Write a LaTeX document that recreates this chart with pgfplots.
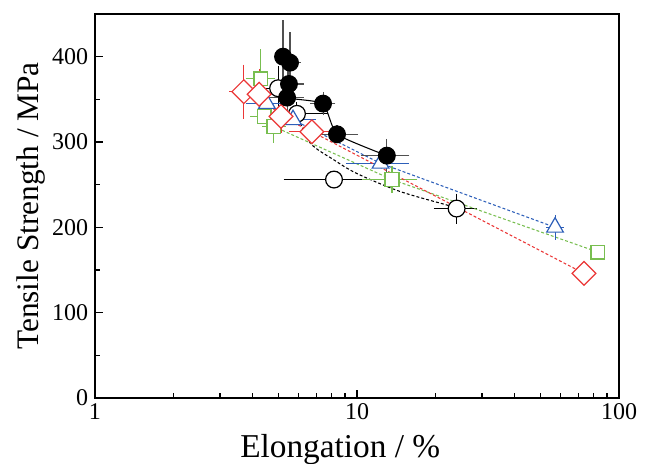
\documentclass[border=0pt]{standalone}
\usepackage{fontspec}
\setmainfont{Liberation Serif}
\usepackage{pgfplots}
\pgfplotsset{compat=1.18}
\usepackage{pgfplotstable}

\definecolor{myred}{RGB}{235,55,55}
\definecolor{mygreen}{RGB}{120,190,80}
\definecolor{myblue}{RGB}{45,95,185}
\definecolor{bargray}{RGB}{80,80,80}

% x = elongation (%), y = tensile strength (MPa), ex/ey = error
\pgfplotstableread{
x y ex ey
5.22 400 0.2 37
5.55 393 0.3 30
5.50 368 0.5 15
5.41 352 0.6 25
7.42 345 0.5 8
8.39 309 1.3 5
13.0 284 2.2 14
}\filled

\pgfplotstableread{
x y ex ey
5.0 363 0.3 20
5.9 333 1.5 8
8.17 256 2.7 0
24.0 222 3.5 12
}\open

% dashed trend through the open circles
\pgfplotstableread{
x y
5.9 333
6.62 299
8.17 279
10 263
14.6 242
22.1 226
24.0 222
}\openfit

\pgfplotstableread{
x y ex ey
4.30 374 0.38 29
4.42 330 0.33 0
4.82 318 0.3 13
13.6 256 2.7 10
83.1 171 0 0
}\green

\pgfplotstableread{
x y ex ey
4.53 345 0.6 0
5.70 326 1.0 0
12.3 275 2.8 0
57.0 200 2 9
}\blue

\pgfplotstableread{
x y ex ey
3.70 359 0.3 26
4.23 356 0.3 24
5.13 330 0.4 14
6.73 312 1.0 5
73.5 146 0 0
}\red

\begin{document}
\begin{tikzpicture}
\begin{axis}[
    name=ax,
    scale only axis,
    width=393pt, height=288pt,
    xmode=log, xmin=1, xmax=100,
    ymin=0, ymax=450,
    xtick={1,10,100}, xticklabels={1,10,100},
    ytick={0,100,200,300,400}, yticklabels={0,100,200,300,400},
    minor y tick num=1,
    tick pos=left, tick align=inside,
    major tick length=6pt, minor tick length=3.5pt,
    axis line style={line width=1pt},
    every tick/.style={black, line width=0.8pt},
    every tick label/.append style={font=\fontsize{18}{18}\selectfont},
    xticklabel style={inner sep=4pt},
    yticklabel style={inner sep=5pt},
    xlabel={Elongation / \%},
    ylabel={Tensile Strength / MPa},
    xlabel style={font=\fontsize{25}{26}\selectfont, at={(axis description cs:0.468,-0.155)}, anchor=base},
    ylabel style={font=\fontsize{23.5}{24}\selectfont, at={(axis description cs:-0.122,0.5)}, anchor=center},
    error bars/error bar style={line width=0.8pt},
    error bars/error mark options={mark size=3.6pt, line width=0.8pt},
]
% open circles
\addplot[black, dashed, dash pattern=on 2.2pt off 1.6pt, line width=0.8pt, smooth, tension=0.5] table[x=x,y=y] {\openfit};
\addplot[only marks, mark=*, mark size=6.3pt, mark options={draw=black, fill=white, line width=0.9pt},
    error bars/.cd, x dir=both, x explicit, y dir=both, y explicit,
    error bar style={color=black}]
    table[x=x,y=y,x error=ex,y error=ey] {\open};
% green squares
\addplot[mygreen, dashed, dash pattern=on 2.2pt off 1.6pt, line width=0.8pt,
    mark=square*, mark size=5.2pt, mark options={solid, draw=mygreen, fill=white, line width=0.9pt},
    error bars/.cd, x dir=both, x explicit, y dir=both, y explicit,
    error bar style={solid, color=mygreen}]
    table[x=x,y=y,x error=ex,y error=ey] {\green};
% blue triangles
\addplot[myblue, dashed, dash pattern=on 2.2pt off 1.6pt, line width=0.8pt,
    mark=triangle*, mark size=7.2pt, mark options={solid, draw=myblue, fill=white, line width=0.9pt},
    error bars/.cd, x dir=both, x explicit, y dir=both, y explicit,
    error bar style={solid, color=myblue}]
    table[x=x,y=y,x error=ex,y error=ey] {\blue};
% red diamonds
\addplot[myred, dashed, dash pattern=on 2.2pt off 1.6pt, line width=0.8pt,
    mark=square*, mark size=6.3pt, mark options={solid, rotate=45, draw=myred, fill=white, line width=0.9pt},
    error bars/.cd, x dir=both, x explicit, y dir=both, y explicit,
    error bar style={solid, color=myred}]
    table[x=x,y=y,x error=ex,y error=ey] {\red};
% filled circles
\addplot[black, line width=0.8pt, smooth, tension=0.3,
    mark=*, mark size=6.3pt, mark options={fill=black},
    error bars/.cd, x dir=both, x explicit, y dir=both, y explicit,
    error bar style={color=bargray}]
    table[x=x,y=y,x error=ex,y error=ey] {\filled};
\end{axis}
\pgfresetboundingbox
\path ([shift={(-71.25pt,-49.5pt)}]ax.south west) rectangle ([shift={(21.75pt,10.5pt)}]ax.north east);
\end{tikzpicture}
\end{document}
